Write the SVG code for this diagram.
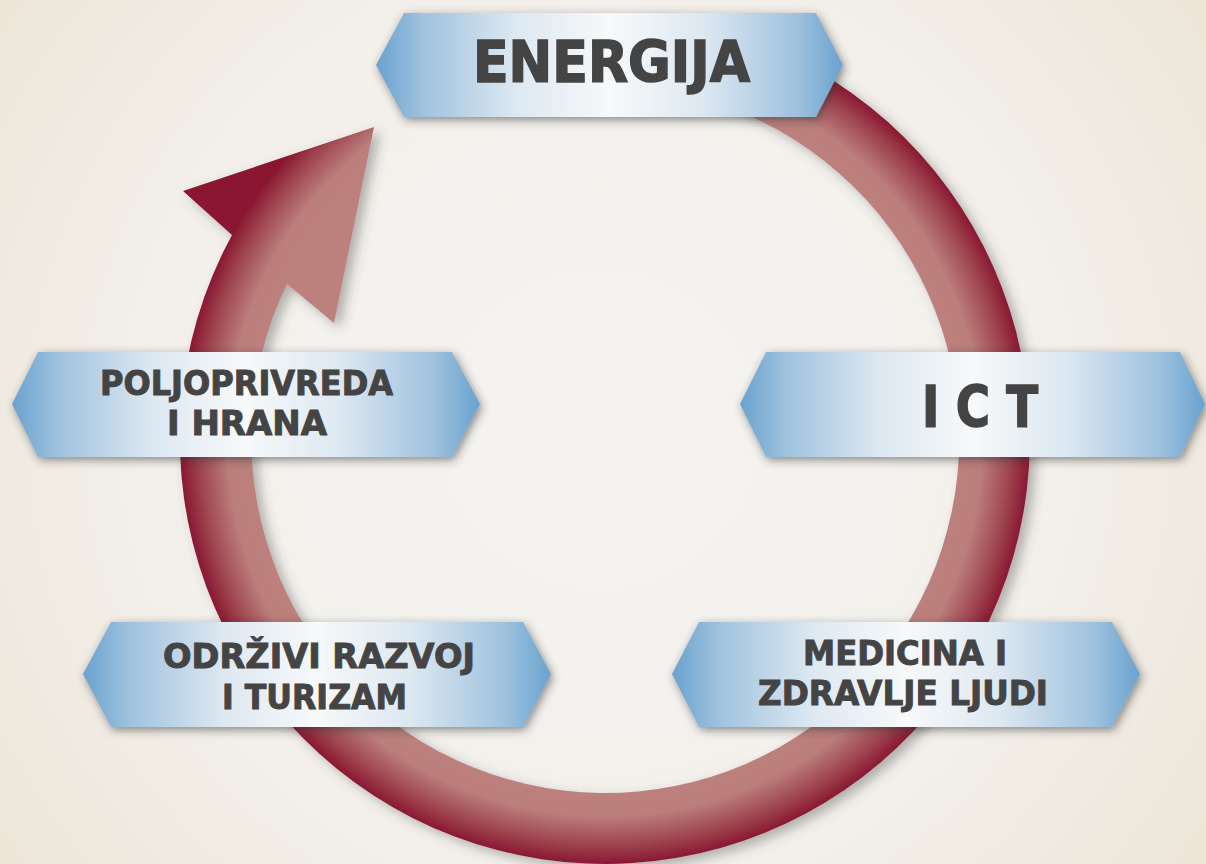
<svg xmlns="http://www.w3.org/2000/svg" width="1206" height="864" viewBox="0 0 1206 864">
  <defs>
    <radialGradient id="bg" cx="600" cy="430" r="820" gradientUnits="userSpaceOnUse">
      <stop offset="0" stop-color="#f5f4f1"/>
      <stop offset="0.55" stop-color="#f3f0eb"/>
      <stop offset="1" stop-color="#ebe3d3"/>
    </radialGradient>
    <radialGradient id="ringGrad" cx="605" cy="439" r="490" gradientUnits="userSpaceOnUse">
      <stop offset="0" stop-color="#bf847f"/>
      <stop offset="0.72" stop-color="#bd817d"/>
      <stop offset="0.77" stop-color="#bb7e7b"/>
      <stop offset="0.825" stop-color="#a04852"/>
      <stop offset="0.867" stop-color="#8a1832"/>
      <stop offset="1" stop-color="#8a1630"/>
    </radialGradient>
    <linearGradient id="boxGrad" x1="0" y1="0" x2="1" y2="0">
      <stop offset="0" stop-color="#6aa2ce"/>
      <stop offset="0.1" stop-color="#9fc2de"/>
      <stop offset="0.3" stop-color="#dde8f1"/>
      <stop offset="0.5" stop-color="#f7f9fa"/>
      <stop offset="0.7" stop-color="#dde8f1"/>
      <stop offset="0.9" stop-color="#9fc2de"/>
      <stop offset="1" stop-color="#6aa2ce"/>
    </linearGradient>
    <filter id="ringShadow" x="-20%" y="-20%" width="140%" height="140%">
      <feDropShadow dx="6" dy="5" stdDeviation="6" flood-color="#4a4a48" flood-opacity="0.4"/>
    </filter>
    <filter id="boxShadow" x="-10%" y="-30%" width="120%" height="160%">
      <feDropShadow dx="2" dy="3" stdDeviation="5" flood-color="#333333" flood-opacity="0.55"/>
    </filter>
  </defs>
  <style>
    .box { fill: url(#boxGrad); filter: url(#boxShadow); }
    .big { font-family: "DejaVu Sans", "Liberation Sans", sans-serif; font-weight: bold; font-size: 57px; fill: #444444; stroke: #444444; stroke-width: 1.6px; text-anchor: middle; }
    .lbl { font-family: "DejaVu Sans", "Liberation Sans", sans-serif; font-weight: bold; font-size: 34px; fill: #444444; stroke: #444444; stroke-width: 1px; text-anchor: middle; }
  </style>

  <rect x="0" y="0" width="1206" height="864" fill="url(#bg)"/>

  <g id="connectors">
    <path id="cycle-arrow" fill="url(#ringGrad)" filter="url(#ringShadow)"
      d="M 642 15.6 A 425 425 0 1 1 232 235 L 183 191 L 374 127 L 334 323 L 287 284 A 354 354 0 1 0 635.9 86.3 Z"/>
  </g>

  <g id="node-energija">
    <polygon class="box" points="376,65 404,13 816,13 843,65 816,117 404,117"/>
    <text class="big" x="611.5" y="82" textLength="277" lengthAdjust="spacingAndGlyphs">ENERGIJA</text>
  </g>

  <g id="node-ict">
    <polygon class="box" points="740,404 766,352 1180,352 1205,404 1180,457 766,457"/>
    <text class="big" x="980" y="427" textLength="116" lengthAdjust="spacingAndGlyphs">I C T</text>
  </g>

  <g id="node-poljoprivreda">
    <polygon class="box" points="12,404 38,352 452,352 480,404 452,457 38,457"/>
    <text class="lbl" x="246.5" y="395" textLength="293" lengthAdjust="spacingAndGlyphs">POLJOPRIVREDA</text>
    <text class="lbl" x="247" y="435" textLength="160" lengthAdjust="spacingAndGlyphs">I HRANA</text>
  </g>

  <g id="node-odrzivi">
    <polygon class="box" points="83,674 111,622 523,622 551,674 523,727 111,727"/>
    <text class="lbl" x="319" y="668" textLength="312" lengthAdjust="spacingAndGlyphs">ODRŽIVI RAZVOJ</text>
    <text class="lbl" x="314.5" y="709" textLength="185" lengthAdjust="spacingAndGlyphs">I TURIZAM</text>
  </g>

  <g id="node-medicina">
    <polygon class="box" points="672,674 699,622 1112,622 1140,674 1112,727 699,727"/>
    <text class="lbl" x="905" y="665" textLength="204" lengthAdjust="spacingAndGlyphs">MEDICINA I</text>
    <text class="lbl" x="903" y="705" textLength="290" lengthAdjust="spacingAndGlyphs">ZDRAVLJE LJUDI</text>
  </g>
</svg>
